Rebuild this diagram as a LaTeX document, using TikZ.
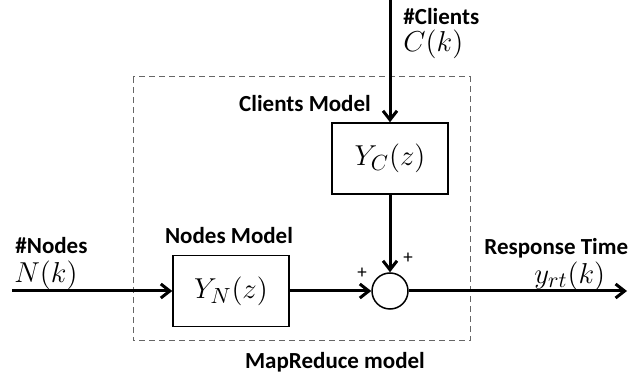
\documentclass[tikz,border=0pt]{standalone}
\usepackage{fontspec}
\setmainfont{Carlito}
\usetikzlibrary{positioning,arrows.meta}
\begin{document}
\begin{tikzpicture}[x=0.5pt, y=-0.5pt,
        block/.style={draw, line width=0.75pt, minimum width=58pt, minimum height=35.5pt, inner sep=0pt, font=\fontsize{15.5}{18}\selectfont},
        sumnode/.style={circle, draw, line width=0.75pt, minimum size=18pt, inner sep=0pt},
        lbl/.style={font=\fontsize{11.5}{13}\selectfont\bfseries, inner sep=0pt},
        mth/.style={font=\fontsize{15.5}{18}\selectfont, inner sep=0pt},
        sgn/.style={font=\fontsize{9.5}{10}\selectfont, inner sep=0pt},
        frame/.style={draw=black!60, densely dashed, line width=0.5pt},
        arrow/.style={-{Straight Barb[length=4.5pt, width=7pt]}, line width=1.5pt}
    ]
        \useasboundingbox (0,0) rectangle (630,378);

        % MapReduce model frame
        \draw[frame] (133,77) rectangle (470,341);

        % Blocks
        \node[block] (YN) at (231,291) {$Y_N(z)$};
        \node[block] (YC) at (390,158.5) {$Y_C(z)$};
        \node[sumnode] (S) at (390,291) {};
        \coordinate (in) at (12,291);
        \coordinate (cin) at (390,0);
        \coordinate (out) at (627,291);

        % Labels
        \node[lbl, anchor=west] (nlbl) at (15,246) {\#Nodes};
        \node[mth, anchor=west] (Nk) at (14,275) {$N(k)$};
        \node[lbl, anchor=west] (clbl) at (403,17) {\#Clients};
        \node[mth, anchor=west] (Ck) at (403,44) {$C(k)$};
        \node[lbl, anchor=west] (rlbl) at (484,248) {Response Time};
        \node[mth, anchor=west] (yk) at (534,276) {$y_{rt}(k)$};
        \node[lbl] (nmod) at (229,236) {Nodes Model};
        \node[lbl] (cmod) at (305,104) {Clients Model};
        \node[lbl] (mr) at (335,362) {MapReduce model};
        \node[sgn] (p1) at (362,273) {+};
        \node[sgn] (p2) at (408,258) {+};

        % Verbindungen
        \draw[arrow] (in) -- (YN);
        \draw[arrow] (YN) -- (S);
        \draw[arrow] (cin) -- (YC);
        \draw[arrow] (YC) -- (S);
        \draw[arrow] (S) -- (out);

    \end{tikzpicture}
\end{document}
